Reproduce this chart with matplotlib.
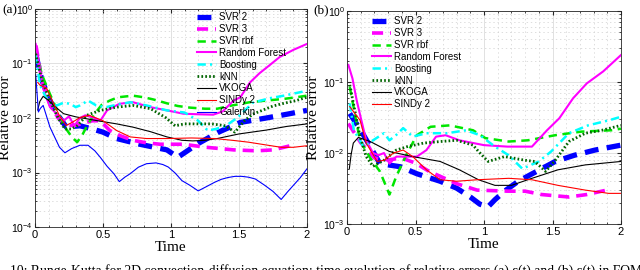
import matplotlib
matplotlib.use("Agg")
import matplotlib.pyplot as plt
from matplotlib.ticker import LogLocator, NullFormatter, MultipleLocator

plt.rcParams['font.family'] = ['Liberation Sans', 'DejaVu Sans']
plt.rcParams['mathtext.fontset'] = 'custom'
plt.rcParams['mathtext.rm'] = 'Liberation Sans'
plt.rcParams['mathtext.it'] = 'Liberation Sans:italic'
plt.rcParams['lines.scale_dashes'] = False

labels = ['SVR 2', 'SVR 3', 'SVR rbf', 'Random Forest', 'Boosting', 'kNN', 'VKOGA', 'SINDy 2', 'Galerkin']

# ---- panel (a) ----
a_svr2_t = [0.005, 0.05, 0.11, 0.17, 0.23, 0.33, 0.42, 0.5, 0.6, 0.77, 0.97, 1.05, 1.2, 1.35, 1.51, 1.7, 1.85, 2.0]
a_svr2 = [0.151, 0.05, 0.0209, 0.0112, 0.0068, 0.0072, 0.0063, 0.0055, 0.0042, 0.0033, 0.0026, 0.0019,
          0.0034, 0.0055, 0.0083, 0.010, 0.0117, 0.0138]
a_svr3_t = [0.007, 0.05, 0.11, 0.17, 0.22, 0.28, 0.35, 0.42, 0.48, 0.55, 0.63, 0.72, 0.82, 0.92, 1.09, 1.26,
            1.46, 1.63, 1.75, 1.83, 1.9]
a_svr3 = [0.214, 0.05, 0.0178, 0.01, 0.0079, 0.0072, 0.0079, 0.0089, 0.0089, 0.0059, 0.0047, 0.0039, 0.0035,
          0.0033, 0.0033, 0.0029, 0.0026, 0.0025, 0.0026, 0.0029, 0.0032]
a_rbf_t = [0.007, 0.05, 0.11, 0.17, 0.22, 0.27, 0.31, 0.35, 0.39, 0.44, 0.49, 0.55, 0.61, 0.72, 0.8, 0.87, 0.97,
           1.05, 1.14, 1.25, 1.34, 1.45, 1.58, 1.7, 1.83, 1.92, 2.0]
a_rbf = [0.174, 0.063, 0.0275, 0.0126, 0.0068, 0.0045, 0.0036, 0.005, 0.0078, 0.012, 0.0174, 0.0209, 0.024,
         0.0257, 0.024, 0.0219, 0.0186, 0.0166, 0.0155, 0.0148, 0.0148, 0.017, 0.0195, 0.0209, 0.0224, 0.024, 0.0257]
a_rf_t = [0.005, 0.03, 0.06, 0.11, 0.17, 0.21, 0.25, 0.29, 0.33, 0.37, 0.44, 0.48, 0.53, 0.62, 0.72, 0.85, 0.97,
          1.09, 1.2, 1.31, 1.38, 1.46, 1.51, 1.58, 1.65, 1.72, 1.80, 1.9, 2.0]
a_rf = [0.229, 0.1, 0.0347, 0.0158, 0.0112, 0.0089, 0.0107, 0.0072, 0.01, 0.0112, 0.01, 0.0089, 0.0138, 0.0182,
        0.0195, 0.0158, 0.0138, 0.012, 0.0117, 0.0115, 0.0132, 0.0209, 0.024, 0.0447, 0.066, 0.091, 0.132, 0.178, 0.229]
a_boost_t = [0.005, 0.037, 0.08, 0.12, 0.16, 0.21, 0.26, 0.3, 0.33, 0.39, 0.45, 0.52, 0.58, 0.7, 0.82, 0.97, 1.1,
             1.2, 1.27, 1.33, 1.4, 1.49, 1.6, 1.72, 1.83, 2.0]
a_boost = [0.141, 0.040, 0.024, 0.0178, 0.017, 0.019, 0.0182, 0.0158, 0.017, 0.0209, 0.017, 0.0158, 0.017, 0.0195,
           0.017, 0.0138, 0.0126, 0.0089, 0.0059, 0.0063, 0.0071, 0.0102, 0.019, 0.0229, 0.0257, 0.0316]
a_knn_t = [0.005, 0.05, 0.11, 0.17, 0.22, 0.27, 0.31, 0.38, 0.48, 0.6, 0.72, 0.85, 0.96, 1.03, 1.1, 1.2, 1.3, 1.4,
           1.47, 1.54, 1.6, 1.67, 1.75, 1.83, 1.92, 2.0]
a_knn = [0.151, 0.05, 0.0209, 0.01, 0.0063, 0.0063, 0.0072, 0.0112, 0.0138, 0.0158, 0.017, 0.0148, 0.0102, 0.0072,
         0.0078, 0.0078, 0.0078, 0.0072, 0.0055, 0.0089, 0.0117, 0.0138, 0.0166, 0.0186, 0.0209, 0.024]
a_vkoga_t = [0.02, 0.035, 0.06, 0.1, 0.15, 0.21, 0.3, 0.45, 0.6, 0.72, 0.85, 0.97, 1.08, 1.16, 1.25, 1.34, 1.5,
             1.7, 1.85, 2.0]
a_vkoga = [0.014, 0.02, 0.025, 0.021, 0.016, 0.012, 0.0105, 0.009, 0.0078, 0.0068, 0.0056, 0.0045, 0.0039, 0.0038,
           0.0039, 0.0042, 0.0051, 0.006, 0.007, 0.0078]
a_sindy_t = [0.02, 0.037, 0.086, 0.13, 0.18, 0.23, 0.28, 0.33, 0.4, 0.5, 0.6, 0.7, 0.82, 0.97, 1.15, 1.32, 1.45,
             1.57, 1.7, 1.81, 1.9, 2.0]
a_sindy = [0.045, 0.040, 0.035, 0.02, 0.011, 0.0073, 0.0085, 0.0102, 0.0112, 0.0089, 0.0059, 0.0045, 0.0042,
           0.0042, 0.0043, 0.0042, 0.0039, 0.0036, 0.0032, 0.0029, 0.0029, 0.0031]
a_gal_t = [0.005, 0.025, 0.04, 0.06, 0.11, 0.18, 0.22, 0.27, 0.33, 0.39, 0.44, 0.48, 0.53, 0.58, 0.62, 0.66, 0.7,
           0.76, 0.82, 0.89, 0.94, 0.98, 1.03, 1.08, 1.14, 1.20, 1.26, 1.32, 1.37, 1.42, 1.47, 1.52, 1.57, 1.62,
           1.69, 1.75, 1.81, 1.86, 1.91, 1.95, 2.0]
a_gal = [0.063, 0.0129, 0.0151, 0.017, 0.0068, 0.0029, 0.0023, 0.00275, 0.00316, 0.00316, 0.0025, 0.0019, 0.0013,
         0.00095, 0.00068, 0.00082, 0.00095, 0.00125, 0.00145, 0.0015, 0.0014, 0.00126, 0.00098, 0.00071, 0.00058,
         0.00046, 0.00055, 0.00066, 0.00075, 0.00081, 0.00085, 0.00085, 0.00082, 0.00076, 0.00058, 0.00045,
         0.00032, 0.00045, 0.00062, 0.0008, 0.00117]

# ---- panel (b) ----
b_svr2_t = [0.02, 0.1, 0.19, 0.24, 0.3, 0.39, 0.51, 0.68, 0.8, 0.9, 0.97, 1.03, 1.08, 1.15, 1.25, 1.42, 1.52,
            1.66, 1.81, 2.0]
b_svr2 = [0.036, 0.021, 0.0105, 0.0071, 0.0068, 0.0064, 0.0051, 0.004, 0.0032, 0.0024, 0.0019, 0.00175, 0.0022,
          0.0029, 0.004, 0.006, 0.0076, 0.0093, 0.011, 0.0129]
b_svr3_t = [0.01, 0.1, 0.2, 0.3, 0.4, 0.5, 0.6, 0.68, 0.8, 0.95, 1.18, 1.3, 1.42, 1.62, 1.75, 1.86, 1.93]
b_svr3 = [0.026, 0.014, 0.0085, 0.008, 0.0085, 0.0072, 0.0055, 0.0047, 0.0037, 0.003, 0.0029, 0.0029, 0.0026,
          0.0024, 0.0026, 0.0029, 0.0031]
b_rbf_t = [0.02, 0.095, 0.17, 0.24, 0.31, 0.36, 0.44, 0.51, 0.61, 0.75, 0.92, 1.01, 1.18, 1.32, 1.52, 1.71, 1.93, 2.0]
b_rbf = [0.085, 0.015, 0.0085, 0.0055, 0.0026, 0.0047, 0.01, 0.0178, 0.0234, 0.0245, 0.0209, 0.0162, 0.0145,
         0.0151, 0.0178, 0.02, 0.0209, 0.022]
b_rf_t = [0.01, 0.04, 0.07, 0.1, 0.14, 0.19, 0.23, 0.27, 0.31, 0.36, 0.44, 0.51, 0.58, 0.65, 0.72, 0.82, 1.0, 1.17,
          1.35, 1.46, 1.55, 1.65, 1.75, 1.87, 2.0]
b_rf = [0.174, 0.112, 0.056, 0.0316, 0.0151, 0.01, 0.0093, 0.01, 0.0071, 0.0089, 0.0089, 0.0089, 0.011, 0.017,
        0.0178, 0.0151, 0.0129, 0.0123, 0.0123, 0.0209, 0.0309, 0.0589, 0.0955, 0.141, 0.24]
b_boost_t = [0.02, 0.05, 0.12, 0.19, 0.27, 0.31, 0.36, 0.41, 0.48, 0.58, 0.73, 0.87, 0.97, 1.08, 1.18, 1.28, 1.4,
             1.49, 1.62, 1.76, 1.91, 2.0]
b_boost = [0.05, 0.021, 0.0123, 0.0151, 0.019, 0.0151, 0.018, 0.0224, 0.017, 0.019, 0.019, 0.0209, 0.0178, 0.0123,
           0.0093, 0.006, 0.0076, 0.0105, 0.019, 0.0245, 0.0288, 0.0324]
b_knn_t = [0.02, 0.095, 0.14, 0.19, 0.27, 0.36, 0.44, 0.56, 0.68, 0.8, 0.92, 0.96, 1.03, 1.15, 1.3, 1.37, 1.45,
           1.52, 1.62, 1.74, 1.86, 2.0]
b_knn = [0.091, 0.017, 0.0089, 0.0065, 0.0079, 0.011, 0.0123, 0.0138, 0.0145, 0.0151, 0.0129, 0.0105, 0.0076,
         0.0089, 0.0079, 0.0076, 0.0055, 0.0079, 0.0145, 0.019, 0.0209, 0.0245]
b_vkoga_t = [0.017, 0.03, 0.046, 0.083, 0.17, 0.31, 0.48, 0.68, 0.82, 0.96, 1.08, 1.2, 1.35, 1.54, 1.74, 2.0]
b_vkoga = [0.006, 0.0095, 0.0138, 0.0166, 0.0145, 0.0105, 0.0089, 0.0076, 0.0058, 0.0042, 0.0035, 0.0035, 0.0044,
           0.0058, 0.0068, 0.0076]
b_sindy_t = [0.02, 0.095, 0.14, 0.22, 0.27, 0.34, 0.41, 0.48, 0.58, 0.68, 0.8, 0.95, 1.18, 1.35, 1.54, 1.74, 1.91, 2.0]
b_sindy = [0.045, 0.029, 0.0138, 0.0076, 0.0079, 0.01, 0.011, 0.0089, 0.0058, 0.0042, 0.004, 0.0042, 0.0044,
           0.0042, 0.0035, 0.003, 0.0027, 0.0027]

caption = ('10: Runge-Kutta for 2D convection-diffusion equation: time evolution of relative errors '
           '(a) \u03b5(t) and (b) \u03b5(t) in FOM')

styles = [
    dict(color='#0000ff', lw=3.8, dashes=(10, 6)),
    dict(color='#ff00ff', lw=2.6, dashes=(8, 5)),
    dict(color='#00e600', lw=1.8, dashes=(6, 4)),
    dict(color='#ff00ff', lw=1.5, ls='-'),
    dict(color='#00ffff', lw=1.8, dashes=(6, 3, 1.5, 3)),
    dict(color='#006400', lw=2.0, dashes=(1.2, 1.6)),
    dict(color='black', lw=0.8, ls='-'),
    dict(color='#ff0000', lw=0.8, ls='-'),
    dict(color='#0000ff', lw=0.8, ls='-'),
]

panel_a = [(a_svr2_t, a_svr2), (a_svr3_t, a_svr3), (a_rbf_t, a_rbf), (a_rf_t, a_rf), (a_boost_t, a_boost),
           (a_knn_t, a_knn), (a_vkoga_t, a_vkoga), (a_sindy_t, a_sindy), (a_gal_t, a_gal)]
panel_b = [(b_svr2_t, b_svr2), (b_svr3_t, b_svr3), (b_rbf_t, b_rbf), (b_rf_t, b_rf), (b_boost_t, b_boost),
           (b_knn_t, b_knn), (b_vkoga_t, b_vkoga), (b_sindy_t, b_sindy)]

fig = plt.figure(figsize=(6.4, 2.7), dpi=100)
ax1 = fig.add_axes([35 / 640, 43 / 270, 272 / 640, 218 / 270])
ax2 = fig.add_axes([347 / 640, 46 / 270, 274 / 640, 213 / 270])


def setup(ax, ymin, ylab_x):
    ax.set_yscale('log')
    ax.set_xlim(0, 2)
    ax.set_ylim(ymin, 1)
    ax.set_xticks([0, 0.5, 1, 1.5, 2])
    ax.set_xticklabels(['0', '0.5', '1', '1.5', '2'])
    ax.xaxis.set_minor_locator(MultipleLocator(0.1))
    ax.yaxis.set_minor_locator(LogLocator(base=10, subs=range(2, 10), numticks=20))
    ax.yaxis.set_minor_formatter(NullFormatter())
    ax.grid(True, which='major', color='#dcdcdc', lw=0.6)
    ax.grid(True, which='minor', color='#d0d0d0', lw=0.5, ls=(0, (1, 2)))
    ax.set_axisbelow(True)
    ax.tick_params(which='both', direction='in', top=True, right=True, colors='#262626',
                   labelcolor='black', pad=2)
    ax.tick_params(axis='x', labelsize=8)
    ax.tick_params(axis='y', labelsize=7.5, pad=1.5)
    ax.tick_params(which='major', length=3)
    ax.tick_params(which='minor', length=1.5)
    for s in ax.spines.values():
        s.set_color('#262626')
        s.set_linewidth(0.6)
    ax.set_xlabel('Time', family=['Liberation Serif'], fontsize=11, labelpad=1)
    ax.set_ylabel('Relative error', family=['Liberation Serif'], fontsize=11)
    ax.yaxis.set_label_coords(ylab_x, 0.5)


for ax, data, ymin, lx in [(ax1, panel_a, 1e-4, -0.085), (ax2, panel_b, 1e-3, -0.1)]:
    setup(ax, ymin, lx)
    for (t, v), st, lab in zip(data, styles, labels):
        ax.plot(t, v, label=lab, **st)

leg_kw = dict(loc='upper left', frameon=False, fontsize=7, handlelength=2.0, handletextpad=0.3,
              labelspacing=0.19, borderpad=0, borderaxespad=0)
ax1.legend(bbox_to_anchor=(0.595, 0.985), **leg_kw)
ax2.legend(bbox_to_anchor=(0.09, 0.975), **leg_kw)

fig.text(0.003, 0.985, '(a)', family=['Liberation Serif'], fontsize=9.5, va='top')
fig.text(0.489, 0.985, '(b)', family=['Liberation Serif'], fontsize=9.5, va='top')
fig.text(0.016, -0.004, caption, family=['Liberation Serif'], fontsize=9.8, va='center')

fig.savefig('out.png', dpi=100)
